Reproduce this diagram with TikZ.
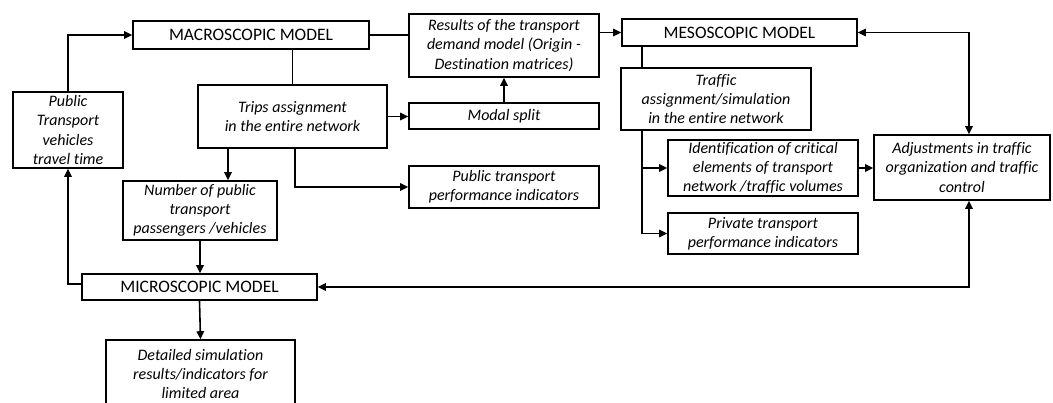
\documentclass[tikz,border=0pt]{standalone}
\usepackage{fontspec}
\setmainfont[Ligatures=NoCommon]{Carlito}
\usetikzlibrary{arrows.meta,calc}
\begin{document}
\begin{tikzpicture}[x=1pt,y=-1pt,
  box/.style={draw,line width=1.6pt,inner sep=0pt,align=center,font=\fontsize{16}{19.2}\selectfont\itshape},
  model/.style={box,font=\fontsize{17.5}{20}\selectfont},
  conn/.style={line width=1.6pt},
  arr/.style={conn,-{Triangle[length=8pt,width=7.5pt]}},
  darr/.style={conn,{Triangle[length=8pt,width=7.5pt]}-{Triangle[length=8pt,width=7.5pt]}}]
\useasboundingbox (0,0) rectangle (1053,403);
\node[model,minimum width=236,minimum height=28] (MACRO) at (251,35) {MACROSCOPIC MODEL};
\node[box,minimum width=190,minimum height=63] (Results) at (504,45.5) {Results of the transport\\demand model (Origin -\\Destination matrices)};
\node[model,minimum width=235,minimum height=27] (MESO) at (739.5,32.5) {MESOSCOPIC MODEL};
\node[box,minimum width=110,minimum height=76] (PubTr) at (68,130) {Public\\Transport\\vehicles\\travel time};
\node[box,minimum width=189,minimum height=63] (Trips) at (292.5,116.5) {Trips assignment\\in the entire network};
\node[box,minimum width=190,minimum height=26] (Modal) at (504,116) {Modal split};
\node[box,minimum width=190,minimum height=62] (Traffic) at (716,99) {Traffic\\assignment/simulation\\in the entire network};
\node[box,minimum width=190,minimum height=56] (Ident) at (763,168) {Identification of critical\\elements of transport\\network /traffic volumes};
\node[box,minimum width=190,minimum height=41] (Private) at (763,233.5) {Private transport\\performance indicators};
\node[box,minimum width=176,minimum height=65] (Adjust) at (962,167.5) {Adjustments in traffic\\organization and traffic\\control};
\node[box,minimum width=154,minimum height=59] (Number) at (200,210.5) {Number of public\\transport\\passengers /vehicles};
\node[box,minimum width=190,minimum height=42] (PTperf) at (504,187) {Public transport\\performance indicators};
\node[model,minimum width=235,minimum height=26] (MICRO) at (199.5,287) {MICROSCOPIC MODEL};
\node[box,minimum width=189,minimum height=68] (Detailed) at (200.5,374) {Detailed simulation\\results/indicators for\\limited area};

\coordinate (tv) at ([xshift=22pt]Traffic.north west);
\coordinate (tb) at ([xshift=22pt]Traffic.south west);
\coordinate (ajn) at ([xshift=7pt]Adjust.north);
\coordinate (ajs) at ([xshift=7pt]Adjust.south);
\coordinate (mw) at ([yshift=3pt]MICRO.west);
\coordinate (ts1) at ([xshift=-64.5pt]Trips.south);
\coordinate (ts2) at ([xshift=2.5pt]Trips.south);

\draw[arr] (PubTr.north) |- (MACRO.west);
\draw[conn] (Trips.north) -- (Trips.north |- MACRO.south);
\draw[conn] (MACRO.east) -- (MACRO.east -| Results.west);
\draw[arr] (Results.east |- MESO.west) -- (MESO.west);
\draw[arr] (Trips.east) -- (Trips.east -| Modal.west);
\draw[arr] (Modal.north) -- (Results.south);
\draw[conn] (tv) -- (tv |- MESO.south);
\draw[arr] (tb) |- (Ident.west);
\draw[arr] (tb) |- (Private.west);
\draw[arr] (Ident.east) -- (Ident.east -| Adjust.west);
\draw[darr] (MESO.east) -| (ajn);
\draw[darr] (MICRO.east) -| (ajs);
\draw[arr] (mw) -| (PubTr.south);
\draw[arr] (ts1) -- (ts1 |- Number.north);
\draw[arr] (Number.south) -- (Number.south |- MICRO.north);
\draw[arr] (ts2) |- (PTperf.west);
\draw[arr] (MICRO.south) -- (Detailed.north);
\end{tikzpicture}
\end{document}
